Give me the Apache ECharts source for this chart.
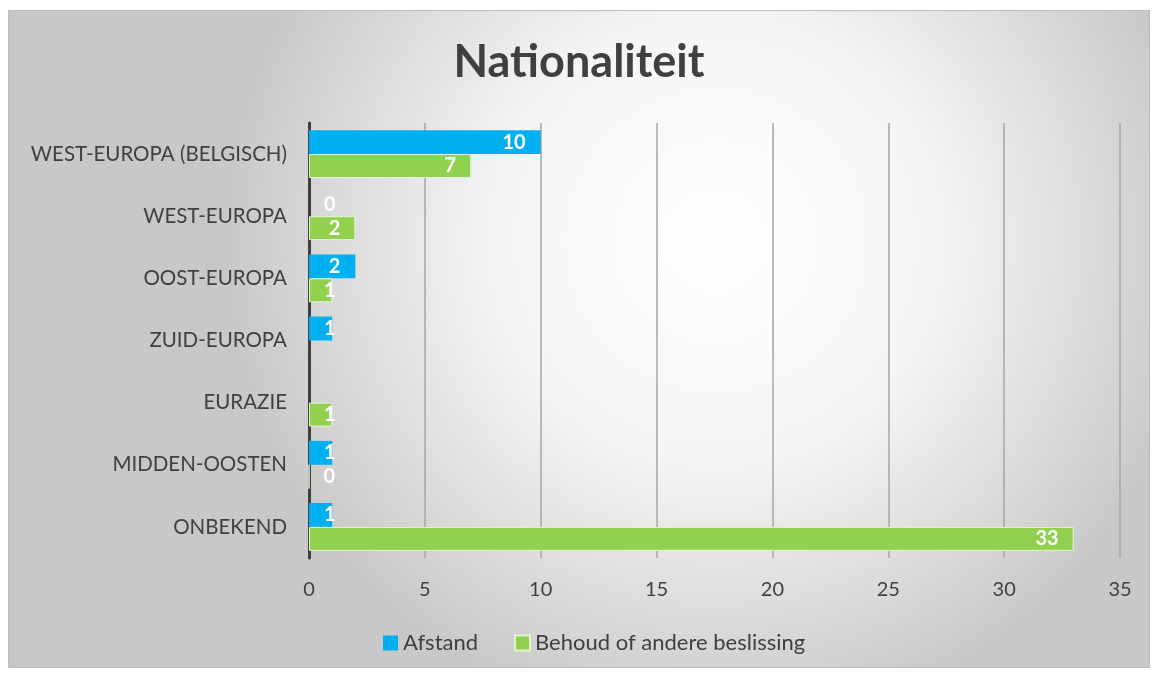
<!DOCTYPE html>
<html>
<head>
<meta charset="utf-8">
<script src="https://cdn.jsdelivr.net/npm/echarts@6/dist/echarts.min.js"></script>
<style>
  html, body { margin: 0; padding: 0; background: #fff; }
  #chart { position: absolute; left: 8px; top: 10px; width: 1142px; height: 658px; border: 1px solid #bdbdbd; box-sizing: border-box; }
</style>
</head>
<body>
<div id="chart"></div>
<script>
const categories = ['WEST-EUROPA (BELGISCH)', 'WEST-EUROPA', 'OOST-EUROPA', 'ZUID-EUROPA', 'EURAZIE', 'MIDDEN-OOSTEN', 'ONBEKEND'];
const afstand = [10, 0, 2, 1, null, 1, 1];
const behoud = [7, 2, 1, null, 1, 0, 33];
const xTicks = [0, 5, 10, 15, 20, 25, 30, 35];

var dom = document.querySelector('#chart');
var myChart = echarts.init(dom);

const fontFam = 'Lato, "Open Sans", sans-serif';

// small values: label sits just right of the axis, like Excel does
function withLabels(values) {
    return values.map(v => {
        if (v === null) return null;
        if (v < 2) {
            return { value: v, label: { position: 'insideLeft', distance: 15 } };
        }
        return v;
    });
}

const barLabel = {
    show: true,
    position: 'insideRight',
    distance: 15,
    color: '#fff',
    fontWeight: 'bold',
    fontSize: 20,
    fontFamily: fontFam
};

const option = {
    backgroundColor: {
        type: 'radial', x: 0.62, y: 0.35, r: 0.75,
        colorStops: [
            { offset: 0, color: '#ffffff' },
            { offset: 0.45, color: '#f5f5f5' },
            { offset: 1, color: '#c8c8c8' }
        ]
    },
    title: {
        text: 'Nationaliteit',
        left: 'center',
        top: 24,
        textStyle: { color: '#404040', fontSize: 45, fontWeight: 'bold', fontFamily: fontFam }
    },
    legend: {
        bottom: 8,
        left: 369,
        itemWidth: 15,
        itemHeight: 15,
        itemGap: 36,
        icon: 'rect',
        textStyle: { color: '#404040', fontSize: 22, fontFamily: fontFam },
        data: ['Afstand', 'Behoud of andere beslissing']
    },
    grid: { left: 300, right: 29, top: 112, bottom: 109, containLabel: false },
    xAxis: {
        type: 'value',
        min: 0, max: 35, interval: 5,
        axisLine: { show: false },
        axisTick: { show: false },
        splitLine: { lineStyle: { color: '#a6a6a6', width: 1.5 } },
        axisLabel: {
            margin: 22,
            color: '#404040', fontSize: 20, fontFamily: fontFam,
            formatter: v => xTicks.includes(v) ? String(v) : ''
        }
    },
    yAxis: {
        type: 'category',
        inverse: true,
        data: categories,
        axisLine: { lineStyle: { color: '#404040', width: 3 } },
        axisTick: { show: false },
        axisLabel: { margin: 22, color: '#404040', fontSize: 20.5, fontFamily: fontFam }
    },
    series: [
        {
            name: 'Afstand',
            type: 'bar',
            data: withLabels(afstand),
            barGap: '0%',
            barCategoryGap: '23%',
            itemStyle: { color: '#00b0f0' },
            label: barLabel
        },
        {
            name: 'Behoud of andere beslissing',
            type: 'bar',
            data: withLabels(behoud),
            itemStyle: { color: '#92d050', borderColor: '#e4f3d4', borderWidth: 1 },
            label: barLabel
        }
    ]
};
myChart.setOption(option);
</script>
</body>
</html>
